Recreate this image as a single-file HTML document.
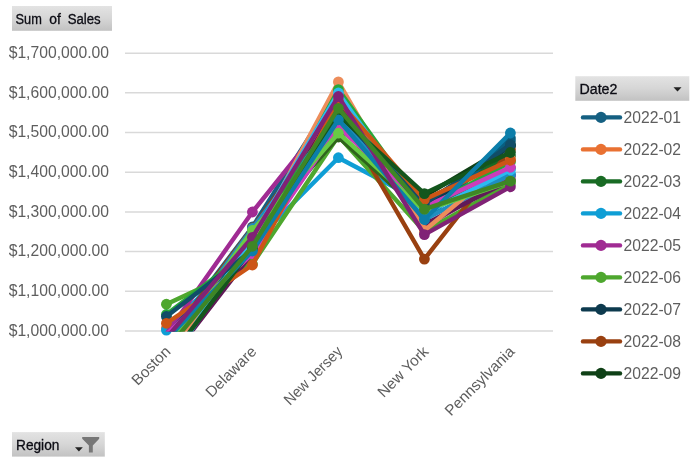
<!DOCTYPE html>
<html><head><meta charset="utf-8"><title>Pivot Chart</title>
<style>
html,body{margin:0;padding:0;background:#fff;}
body{width:700px;height:462px;position:relative;overflow:hidden;font-family:"Liberation Sans",sans-serif;}
svg text{font-family:"Liberation Sans",sans-serif;}
.ax{font-size:15.7px;fill:#5e5e5e;}
.gray{opacity:0.999;}
.btn{font-size:14px;fill:#0c0c14;stroke:#0c0c14;stroke-width:0.3px;}
</style></head><body>
<svg width="700" height="462" viewBox="0 0 700 462" style="position:absolute;left:0;top:0">
<defs>
<linearGradient id="bg" x1="0" y1="0" x2="0" y2="1"><stop offset="0" stop-color="#E3E3E3"/><stop offset="0.5" stop-color="#D6D6D6"/><stop offset="1" stop-color="#C2C2C2"/></linearGradient>
<clipPath id="plot"><rect x="100" y="0" width="470" height="331.6"/></clipPath>
</defs>
<line x1="125" x2="553" y1="53.20" y2="53.20" stroke="#D9D9D9" stroke-width="1.5"/>
<line x1="125" x2="553" y1="92.87" y2="92.87" stroke="#D9D9D9" stroke-width="1.5"/>
<line x1="125" x2="553" y1="132.54" y2="132.54" stroke="#D9D9D9" stroke-width="1.5"/>
<line x1="125" x2="553" y1="172.21" y2="172.21" stroke="#D9D9D9" stroke-width="1.5"/>
<line x1="125" x2="553" y1="211.88" y2="211.88" stroke="#D9D9D9" stroke-width="1.5"/>
<line x1="125" x2="553" y1="251.55" y2="251.55" stroke="#D9D9D9" stroke-width="1.5"/>
<line x1="125" x2="553" y1="291.22" y2="291.22" stroke="#D9D9D9" stroke-width="1.5"/>
<line x1="125" x2="553" y1="330.89" y2="330.89" stroke="#D9D9D9" stroke-width="1.5"/>
<g><polyline clip-path="url(#plot)" points="166.4,340.0 252.4,227.0 338.4,91.0 424.4,217.0 510.4,141.0" fill="none" stroke="#156082" stroke-width="4.4" stroke-linecap="round" stroke-linejoin="round"/>
<circle cx="252.4" cy="227.0" r="5.4" fill="#156082"/>
<circle cx="338.4" cy="91.0" r="5.4" fill="#156082"/>
<circle cx="424.4" cy="217.0" r="5.4" fill="#156082"/>
<circle cx="510.4" cy="141.0" r="5.4" fill="#156082"/>
</g>
<g><polyline clip-path="url(#plot)" points="166.4,328.0 252.4,258.0 338.4,104.0 424.4,200.0 510.4,160.0" fill="none" stroke="#E97132" stroke-width="4.4" stroke-linecap="round" stroke-linejoin="round"/>
<circle cx="166.4" cy="328.0" r="5.4" fill="#E97132"/>
<circle cx="252.4" cy="258.0" r="5.4" fill="#E97132"/>
<circle cx="338.4" cy="104.0" r="5.4" fill="#E97132"/>
<circle cx="424.4" cy="200.0" r="5.4" fill="#E97132"/>
<circle cx="510.4" cy="160.0" r="5.4" fill="#E97132"/>
</g>
<g><polyline clip-path="url(#plot)" points="166.4,345.0 252.4,248.0 338.4,120.0 424.4,201.0 510.4,156.0" fill="none" stroke="#196B24" stroke-width="4.4" stroke-linecap="round" stroke-linejoin="round"/>
<circle cx="252.4" cy="248.0" r="5.4" fill="#196B24"/>
<circle cx="338.4" cy="120.0" r="5.4" fill="#196B24"/>
<circle cx="424.4" cy="201.0" r="5.4" fill="#196B24"/>
<circle cx="510.4" cy="156.0" r="5.4" fill="#196B24"/>
</g>
<g><polyline clip-path="url(#plot)" points="166.4,330.1 252.4,244.0 338.4,157.7 424.4,203.0 510.4,174.6" fill="none" stroke="#0F9ED5" stroke-width="4.4" stroke-linecap="round" stroke-linejoin="round"/>
<circle cx="166.4" cy="330.1" r="5.4" fill="#0F9ED5"/>
<circle cx="252.4" cy="244.0" r="5.4" fill="#0F9ED5"/>
<circle cx="338.4" cy="157.7" r="5.4" fill="#0F9ED5"/>
<circle cx="424.4" cy="203.0" r="5.4" fill="#0F9ED5"/>
<circle cx="510.4" cy="174.6" r="5.4" fill="#0F9ED5"/>
</g>
<g><polyline clip-path="url(#plot)" points="166.4,334.0 252.4,212.0 338.4,105.0 424.4,227.0 510.4,176.0" fill="none" stroke="#A02B93" stroke-width="4.4" stroke-linecap="round" stroke-linejoin="round"/>
<circle cx="252.4" cy="212.0" r="5.4" fill="#A02B93"/>
<circle cx="338.4" cy="105.0" r="5.4" fill="#A02B93"/>
<circle cx="424.4" cy="227.0" r="5.4" fill="#A02B93"/>
<circle cx="510.4" cy="176.0" r="5.4" fill="#A02B93"/>
</g>
<g><polyline clip-path="url(#plot)" points="166.4,304.2 252.4,264.0 338.4,136.0 424.4,231.5 510.4,183.5" fill="none" stroke="#4EA72E" stroke-width="4.4" stroke-linecap="round" stroke-linejoin="round"/>
<circle cx="166.4" cy="304.2" r="5.4" fill="#4EA72E"/>
<circle cx="252.4" cy="264.0" r="5.4" fill="#4EA72E"/>
<circle cx="338.4" cy="136.0" r="5.4" fill="#4EA72E"/>
<circle cx="424.4" cy="231.5" r="5.4" fill="#4EA72E"/>
<circle cx="510.4" cy="183.5" r="5.4" fill="#4EA72E"/>
</g>
<g><polyline clip-path="url(#plot)" points="166.4,338.0 252.4,235.0 338.4,115.0 424.4,208.0 510.4,146.0" fill="none" stroke="#0D3A4E" stroke-width="4.4" stroke-linecap="round" stroke-linejoin="round"/>
<circle cx="252.4" cy="235.0" r="5.4" fill="#0D3A4E"/>
<circle cx="338.4" cy="115.0" r="5.4" fill="#0D3A4E"/>
<circle cx="424.4" cy="208.0" r="5.4" fill="#0D3A4E"/>
<circle cx="510.4" cy="146.0" r="5.4" fill="#0D3A4E"/>
</g>
<g><polyline clip-path="url(#plot)" points="166.4,342.0 252.4,228.0 338.4,111.0 424.4,259.1 510.4,149.5" fill="none" stroke="#994010" stroke-width="4.4" stroke-linecap="round" stroke-linejoin="round"/>
<circle cx="252.4" cy="228.0" r="5.4" fill="#994010"/>
<circle cx="338.4" cy="111.0" r="5.4" fill="#994010"/>
<circle cx="424.4" cy="259.1" r="5.4" fill="#994010"/>
<circle cx="510.4" cy="149.5" r="5.4" fill="#994010"/>
</g>
<g><polyline clip-path="url(#plot)" points="166.4,350.0 252.4,250.0 338.4,128.0 424.4,196.0 510.4,145.0" fill="none" stroke="#0F4016" stroke-width="4.4" stroke-linecap="round" stroke-linejoin="round"/>
<circle cx="252.4" cy="250.0" r="5.4" fill="#0F4016"/>
<circle cx="338.4" cy="128.0" r="5.4" fill="#0F4016"/>
<circle cx="424.4" cy="196.0" r="5.4" fill="#0F4016"/>
<circle cx="510.4" cy="145.0" r="5.4" fill="#0F4016"/>
</g>
<g><polyline clip-path="url(#plot)" points="166.4,336.0 252.4,242.0 338.4,110.0 424.4,222.0 510.4,138.0" fill="none" stroke="#095F80" stroke-width="4.4" stroke-linecap="round" stroke-linejoin="round"/>
<circle cx="252.4" cy="242.0" r="5.4" fill="#095F80"/>
<circle cx="338.4" cy="110.0" r="5.4" fill="#095F80"/>
<circle cx="424.4" cy="222.0" r="5.4" fill="#095F80"/>
<circle cx="510.4" cy="138.0" r="5.4" fill="#095F80"/>
</g>
<g><polyline clip-path="url(#plot)" points="166.4,364.0 252.4,253.0 338.4,102.0 424.4,224.5 510.4,180.0" fill="none" stroke="#601A58" stroke-width="4.4" stroke-linecap="round" stroke-linejoin="round"/>
<circle cx="252.4" cy="253.0" r="5.4" fill="#601A58"/>
<circle cx="338.4" cy="102.0" r="5.4" fill="#601A58"/>
<circle cx="424.4" cy="224.5" r="5.4" fill="#601A58"/>
<circle cx="510.4" cy="180.0" r="5.4" fill="#601A58"/>
</g>
<g><polyline clip-path="url(#plot)" points="166.4,344.0 252.4,234.0 338.4,137.0 424.4,214.0 510.4,168.0" fill="none" stroke="#2F641C" stroke-width="4.4" stroke-linecap="round" stroke-linejoin="round"/>
<circle cx="252.4" cy="234.0" r="5.4" fill="#2F641C"/>
<circle cx="338.4" cy="137.0" r="5.4" fill="#2F641C"/>
<circle cx="424.4" cy="214.0" r="5.4" fill="#2F641C"/>
<circle cx="510.4" cy="168.0" r="5.4" fill="#2F641C"/>
</g>
<g><polyline clip-path="url(#plot)" points="166.4,346.0 252.4,228.5 338.4,116.0 424.4,219.5 510.4,174.5" fill="none" stroke="#1F8EC0" stroke-width="4.4" stroke-linecap="round" stroke-linejoin="round"/>
<circle cx="252.4" cy="228.5" r="5.4" fill="#1F8EC0"/>
<circle cx="338.4" cy="116.0" r="5.4" fill="#1F8EC0"/>
<circle cx="424.4" cy="219.5" r="5.4" fill="#1F8EC0"/>
<circle cx="510.4" cy="174.5" r="5.4" fill="#1F8EC0"/>
</g>
<g><polyline clip-path="url(#plot)" points="166.4,357.0 252.4,243.0 338.4,81.9 424.4,230.5 510.4,159.0" fill="none" stroke="#ED8D5B" stroke-width="4.4" stroke-linecap="round" stroke-linejoin="round"/>
<circle cx="252.4" cy="243.0" r="5.4" fill="#ED8D5B"/>
<circle cx="338.4" cy="81.9" r="5.4" fill="#ED8D5B"/>
<circle cx="424.4" cy="230.5" r="5.4" fill="#ED8D5B"/>
<circle cx="510.4" cy="159.0" r="5.4" fill="#ED8D5B"/>
</g>
<g><polyline clip-path="url(#plot)" points="166.4,314.5 252.4,248.5 338.4,89.6 424.4,209.0 510.4,162.0" fill="none" stroke="#27A839" stroke-width="4.4" stroke-linecap="round" stroke-linejoin="round"/>
<circle cx="166.4" cy="314.5" r="5.4" fill="#27A839"/>
<circle cx="252.4" cy="248.5" r="5.4" fill="#27A839"/>
<circle cx="338.4" cy="89.6" r="5.4" fill="#27A839"/>
<circle cx="424.4" cy="209.0" r="5.4" fill="#27A839"/>
<circle cx="510.4" cy="162.0" r="5.4" fill="#27A839"/>
</g>
<g><polyline clip-path="url(#plot)" points="166.4,368.5 252.4,237.0 338.4,93.0 424.4,214.0 510.4,170.0" fill="none" stroke="#2CBAF0" stroke-width="4.4" stroke-linecap="round" stroke-linejoin="round"/>
<circle cx="252.4" cy="237.0" r="5.4" fill="#2CBAF0"/>
<circle cx="338.4" cy="93.0" r="5.4" fill="#2CBAF0"/>
<circle cx="424.4" cy="214.0" r="5.4" fill="#2CBAF0"/>
<circle cx="510.4" cy="170.0" r="5.4" fill="#2CBAF0"/>
</g>
<g><polyline clip-path="url(#plot)" points="166.4,334.5 252.4,253.6 338.4,126.7 424.4,207.0 510.4,167.3" fill="none" stroke="#CB3DBB" stroke-width="4.4" stroke-linecap="round" stroke-linejoin="round"/>
<circle cx="252.4" cy="253.6" r="5.4" fill="#CB3DBB"/>
<circle cx="338.4" cy="126.7" r="5.4" fill="#CB3DBB"/>
<circle cx="424.4" cy="207.0" r="5.4" fill="#CB3DBB"/>
<circle cx="510.4" cy="167.3" r="5.4" fill="#CB3DBB"/>
</g>
<g><polyline clip-path="url(#plot)" points="166.4,350.0 252.4,230.5 338.4,133.2 424.4,210.5 510.4,181.5" fill="none" stroke="#68CC45" stroke-width="4.4" stroke-linecap="round" stroke-linejoin="round"/>
<circle cx="252.4" cy="230.5" r="5.4" fill="#68CC45"/>
<circle cx="338.4" cy="133.2" r="5.4" fill="#68CC45"/>
<circle cx="424.4" cy="210.5" r="5.4" fill="#68CC45"/>
<circle cx="510.4" cy="181.5" r="5.4" fill="#68CC45"/>
</g>
<g><polyline clip-path="url(#plot)" points="166.4,316.5 252.4,250.0 338.4,113.0 424.4,204.0 510.4,144.7" fill="none" stroke="#114D68" stroke-width="4.4" stroke-linecap="round" stroke-linejoin="round"/>
<circle cx="166.4" cy="316.5" r="5.4" fill="#114D68"/>
<circle cx="252.4" cy="250.0" r="5.4" fill="#114D68"/>
<circle cx="338.4" cy="113.0" r="5.4" fill="#114D68"/>
<circle cx="424.4" cy="204.0" r="5.4" fill="#114D68"/>
<circle cx="510.4" cy="144.7" r="5.4" fill="#114D68"/>
</g>
<g><polyline clip-path="url(#plot)" points="166.4,323.3 252.4,265.0 338.4,101.0 424.4,199.5 510.4,160.3" fill="none" stroke="#CC5516" stroke-width="4.4" stroke-linecap="round" stroke-linejoin="round"/>
<circle cx="166.4" cy="323.3" r="5.4" fill="#CC5516"/>
<circle cx="252.4" cy="265.0" r="5.4" fill="#CC5516"/>
<circle cx="338.4" cy="101.0" r="5.4" fill="#CC5516"/>
<circle cx="424.4" cy="199.5" r="5.4" fill="#CC5516"/>
<circle cx="510.4" cy="160.3" r="5.4" fill="#CC5516"/>
</g>
<g><polyline clip-path="url(#plot)" points="166.4,363.0 252.4,248.0 338.4,115.0 424.4,193.6 510.4,152.5" fill="none" stroke="#14561D" stroke-width="4.4" stroke-linecap="round" stroke-linejoin="round"/>
<circle cx="252.4" cy="248.0" r="5.4" fill="#14561D"/>
<circle cx="338.4" cy="115.0" r="5.4" fill="#14561D"/>
<circle cx="424.4" cy="193.6" r="5.4" fill="#14561D"/>
<circle cx="510.4" cy="152.5" r="5.4" fill="#14561D"/>
</g>
<g><polyline clip-path="url(#plot)" points="166.4,339.5 252.4,251.0 338.4,119.8 424.4,219.5 510.4,133.0" fill="none" stroke="#0C7EAA" stroke-width="4.4" stroke-linecap="round" stroke-linejoin="round"/>
<circle cx="252.4" cy="251.0" r="5.4" fill="#0C7EAA"/>
<circle cx="338.4" cy="119.8" r="5.4" fill="#0C7EAA"/>
<circle cx="424.4" cy="219.5" r="5.4" fill="#0C7EAA"/>
<circle cx="510.4" cy="133.0" r="5.4" fill="#0C7EAA"/>
</g>
<g><polyline clip-path="url(#plot)" points="166.4,338.0 252.4,237.3 338.4,96.5 424.4,234.6 510.4,186.8" fill="none" stroke="#802276" stroke-width="4.4" stroke-linecap="round" stroke-linejoin="round"/>
<circle cx="252.4" cy="237.3" r="5.4" fill="#802276"/>
<circle cx="338.4" cy="96.5" r="5.4" fill="#802276"/>
<circle cx="424.4" cy="234.6" r="5.4" fill="#802276"/>
<circle cx="510.4" cy="186.8" r="5.4" fill="#802276"/>
</g>
<g><polyline clip-path="url(#plot)" points="166.4,350.0 252.4,246.3 338.4,108.3 424.4,209.2 510.4,181.1" fill="none" stroke="#3E8625" stroke-width="4.4" stroke-linecap="round" stroke-linejoin="round"/>
<circle cx="252.4" cy="246.3" r="5.4" fill="#3E8625"/>
<circle cx="338.4" cy="108.3" r="5.4" fill="#3E8625"/>
<circle cx="424.4" cy="209.2" r="5.4" fill="#3E8625"/>
<circle cx="510.4" cy="181.1" r="5.4" fill="#3E8625"/>
</g>
<g class="gray">
<text x="109" y="57.90" text-anchor="end" class="ax">$1,700,000.00</text>
<text x="109" y="97.57" text-anchor="end" class="ax">$1,600,000.00</text>
<text x="109" y="137.24" text-anchor="end" class="ax">$1,500,000.00</text>
<text x="109" y="176.91" text-anchor="end" class="ax">$1,400,000.00</text>
<text x="109" y="216.58" text-anchor="end" class="ax">$1,300,000.00</text>
<text x="109" y="256.25" text-anchor="end" class="ax">$1,200,000.00</text>
<text x="109" y="295.92" text-anchor="end" class="ax">$1,100,000.00</text>
<text x="109" y="335.59" text-anchor="end" class="ax">$1,000,000.00</text>
<text transform="translate(171.4,352.5) rotate(-45)" text-anchor="end" class="ax" style="font-size:15.3px">Boston</text>
<text transform="translate(257.4,352.5) rotate(-45)" text-anchor="end" class="ax" style="font-size:15.3px">Delaware</text>
<text transform="translate(343.4,352.5) rotate(-45)" text-anchor="end" class="ax" style="font-size:15.3px" textLength="75.5" lengthAdjust="spacingAndGlyphs">New Jersey</text>
<text transform="translate(429.4,352.5) rotate(-45)" text-anchor="end" class="ax" style="font-size:15.3px">New York</text>
<text transform="translate(515.4,352.5) rotate(-45)" text-anchor="end" class="ax" style="font-size:15.3px">Pennsylvania</text>
<line x1="583" x2="620" y1="117.4" y2="117.4" stroke="#156082" stroke-width="4.4" stroke-linecap="round"/>
<circle cx="601" cy="117.4" r="5.6" fill="#156082"/>
<text x="623.5" y="122.7" class="ax">2022-01</text>
<line x1="583" x2="620" y1="149.4" y2="149.4" stroke="#E97132" stroke-width="4.4" stroke-linecap="round"/>
<circle cx="601" cy="149.4" r="5.6" fill="#E97132"/>
<text x="623.5" y="154.7" class="ax">2022-02</text>
<line x1="583" x2="620" y1="181.4" y2="181.4" stroke="#196B24" stroke-width="4.4" stroke-linecap="round"/>
<circle cx="601" cy="181.4" r="5.6" fill="#196B24"/>
<text x="623.5" y="186.7" class="ax">2022-03</text>
<line x1="583" x2="620" y1="213.4" y2="213.4" stroke="#0F9ED5" stroke-width="4.4" stroke-linecap="round"/>
<circle cx="601" cy="213.4" r="5.6" fill="#0F9ED5"/>
<text x="623.5" y="218.7" class="ax">2022-04</text>
<line x1="583" x2="620" y1="245.4" y2="245.4" stroke="#A02B93" stroke-width="4.4" stroke-linecap="round"/>
<circle cx="601" cy="245.4" r="5.6" fill="#A02B93"/>
<text x="623.5" y="250.7" class="ax">2022-05</text>
<line x1="583" x2="620" y1="277.4" y2="277.4" stroke="#4EA72E" stroke-width="4.4" stroke-linecap="round"/>
<circle cx="601" cy="277.4" r="5.6" fill="#4EA72E"/>
<text x="623.5" y="282.7" class="ax">2022-06</text>
<line x1="583" x2="620" y1="309.4" y2="309.4" stroke="#0D3A4E" stroke-width="4.4" stroke-linecap="round"/>
<circle cx="601" cy="309.4" r="5.6" fill="#0D3A4E"/>
<text x="623.5" y="314.7" class="ax">2022-07</text>
<line x1="583" x2="620" y1="341.4" y2="341.4" stroke="#994010" stroke-width="4.4" stroke-linecap="round"/>
<circle cx="601" cy="341.4" r="5.6" fill="#994010"/>
<text x="623.5" y="346.7" class="ax">2022-08</text>
<line x1="583" x2="620" y1="373.4" y2="373.4" stroke="#0F4016" stroke-width="4.4" stroke-linecap="round"/>
<circle cx="601" cy="373.4" r="5.6" fill="#0F4016"/>
<text x="623.5" y="378.7" class="ax">2022-09</text>
</g>
<rect x="12" y="6" width="100" height="24.8" fill="url(#bg)"/>
<text x="15.5" y="23.8" class="btn" textLength="26.3" lengthAdjust="spacingAndGlyphs">Sum</text>
<text x="49.2" y="23.8" class="btn" textLength="11.6" lengthAdjust="spacingAndGlyphs">of</text>
<text x="67.7" y="23.8" class="btn" textLength="33" lengthAdjust="spacingAndGlyphs">Sales</text>
<rect x="575.3" y="76.2" width="114" height="24.6" fill="url(#bg)"/>
<text x="579.5" y="93.8" class="btn" textLength="37.9" lengthAdjust="spacingAndGlyphs">Date2</text>
<path d="M673.5 87.2 L681.5 87.2 L677.5 91.4 Z" fill="#222"/>
<rect x="12" y="432.1" width="92.8" height="24.5" fill="url(#bg)"/>
<text x="16" y="449.6" class="btn" textLength="43.4" lengthAdjust="spacingAndGlyphs">Region</text>
<path d="M75 447.3 L82.8 447.3 L78.9 451.5 Z" fill="#222"/>
<path d="M82.2 437 H99.2 V438.8 L92.8 445.4 V452.4 H88.9 V445.4 L82.2 438.8 Z" fill="#777"/>
</svg>
</body></html>
